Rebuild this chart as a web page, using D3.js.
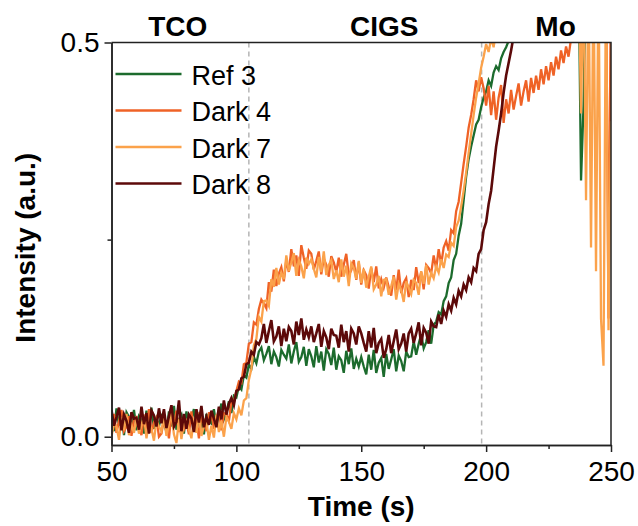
<!DOCTYPE html>
<html>
<head>
<meta charset="utf-8">
<script src="https://cdn.jsdelivr.net/npm/d3@7"></script>
<style>
  body { margin: 0; background: #fff; }
  text { font-family: "Liberation Sans", Arial, sans-serif; }
</style>
</head>
<body>
<div id="chart"></div>
<script>
// sample grid: one reading per second, starting at 50 s
var tStart = 50, tStep = 1;

var xTicks = [50, 100, 150, 200, 250];
var xMinor = [75, 125, 175, 225];
var yTicks = [0.0, 0.5];
var yMinor = [0.25];
var layerMarks = [105, 198.2];
var layerNames = ["TCO", "CIGS", "Mo"];
var layerCenters = [76.5, 159.2, 227.8];

var names = ["Ref 3", "Dark 4", "Dark 7", "Dark 8"];
var colors = ["#1c6b2d", "#ef6226", "#fba24b", "#5c0909"];

var ref3 = [
  0.022, 0.007, 0.036, 0.014, 0.028, 0.002, 0.031, 0.025, 0.011, 0.034,
  0.008, 0.026, 0.021, 0.004, 0.033, 0.016, 0.037, 0.010, 0.023, 0.013,
  0.029, 0.017, 0.006, 0.032, 0.013, 0.039, 0.009, 0.022, 0.028, 0.004,
  0.032, 0.012, 0.023, 0.035, 0.006, 0.026, 0.018, 0.003, 0.029, 0.021,
  0.017, 0.035, 0.013, 0.028, 0.042, 0.022, 0.030, 0.045, 0.030, 0.052,
  0.050, 0.064, 0.060, 0.078, 0.075, 0.092, 0.086, 0.101, 0.093, 0.108,
  0.113, 0.097, 0.105, 0.115, 0.092, 0.108, 0.101, 0.089, 0.110, 0.104,
  0.099, 0.117, 0.093, 0.108, 0.120, 0.095, 0.101, 0.114, 0.090, 0.111,
  0.102, 0.088, 0.115, 0.094, 0.108, 0.084, 0.111, 0.105, 0.091, 0.113,
  0.085, 0.102, 0.097, 0.081, 0.109, 0.092, 0.112, 0.086, 0.099, 0.089,
  0.101, 0.089, 0.079, 0.104, 0.085, 0.110, 0.081, 0.094, 0.100, 0.076,
  0.105, 0.086, 0.098, 0.111, 0.083, 0.103, 0.096, 0.083, 0.108, 0.101,
  0.102, 0.121, 0.104, 0.118, 0.130, 0.112, 0.120, 0.135, 0.118, 0.142,
  0.146, 0.158, 0.155, 0.172, 0.178, 0.195, 0.202, 0.224, 0.232, 0.255,
  0.270, 0.300, 0.330, 0.352, 0.368, 0.382, 0.396, 0.402, 0.418, 0.430,
  0.438, 0.452, 0.445, 0.462, 0.470, 0.465, 0.480, 0.488, 0.494, 0.502,
  0.515, 0.530, 0.545, 0.560, 0.580, 0.600, 0.600, 0.600, 0.600, 0.600,
  0.600, 0.600, 0.600, 0.600, 0.600, 0.600, 0.600, 0.600, 0.600, 0.600,
  0.600, 0.600, 0.600, 0.600, 0.600, 0.600, 0.600, 0.600, 0.325, 0.420,
  0.600, 0.600, 0.600, 0.600, 0.600, 0.600, 0.600, 0.600, 0.600, 0.600,
  0.600
];

var dark4 = [
  0.011, 0.029, 0.005, 0.020, 0.034, 0.007, 0.013, 0.026, 0.001, 0.023,
  0.025, 0.013, 0.002, 0.028, 0.009, 0.035, 0.005, 0.018, 0.024, 0.000,
  0.004, 0.022, 0.017, -0.002, 0.029, 0.012, 0.033, 0.006, 0.019, 0.009,
  0.018, 0.003, 0.032, 0.010, 0.024, -0.002, 0.027, 0.021, 0.007, 0.030,
  0.030, 0.010, 0.022, 0.035, 0.008, 0.030, 0.028, 0.020, 0.044, 0.045,
  0.058, 0.070, 0.068, 0.092, 0.094, 0.118, 0.120, 0.145, 0.142, 0.162,
  0.174, 0.169, 0.163, 0.196, 0.184, 0.212, 0.191, 0.207, 0.215, 0.197,
  0.224, 0.209, 0.238, 0.216, 0.230, 0.204, 0.243, 0.227, 0.213, 0.236,
  0.232, 0.212, 0.223, 0.235, 0.206, 0.226, 0.218, 0.203, 0.229, 0.221,
  0.209, 0.227, 0.203, 0.218, 0.232, 0.205, 0.211, 0.224, 0.199, 0.221,
  0.193, 0.211, 0.205, 0.188, 0.214, 0.196, 0.216, 0.188, 0.200, 0.189,
  0.202, 0.190, 0.179, 0.205, 0.186, 0.212, 0.182, 0.195, 0.201, 0.177,
  0.199, 0.186, 0.215, 0.195, 0.209, 0.187, 0.218, 0.214, 0.207, 0.230,
  0.213, 0.238, 0.219, 0.240, 0.248, 0.236, 0.262, 0.258, 0.286, 0.298,
  0.322, 0.346, 0.368, 0.392, 0.408, 0.428, 0.452, 0.438, 0.456, 0.442,
  0.420, 0.445, 0.408, 0.438, 0.402, 0.430, 0.446, 0.398, 0.428, 0.410,
  0.440, 0.415, 0.432, 0.448, 0.420, 0.438, 0.452, 0.425, 0.455, 0.436,
  0.458, 0.440, 0.466, 0.447, 0.470, 0.452, 0.475, 0.458, 0.482, 0.466,
  0.490, 0.474, 0.495, 0.482, 0.505, 0.510, 0.540, 0.580, 0.600, 0.600,
  0.600, 0.600, 0.600, 0.600, 0.600, 0.600, 0.600, 0.600, 0.600, 0.150,
  0.600
];

var dark7 = [
  0.000, 0.018, 0.013, -0.004, 0.025, 0.008, 0.029, 0.002, 0.015, 0.005,
  0.024, 0.004, 0.015, 0.027, -0.002, 0.018, 0.010, -0.005, 0.021, 0.013,
  0.007, 0.025, 0.001, 0.016, 0.030, 0.003, -0.008, 0.022, -0.003, 0.019,
  0.021, 0.009, -0.002, 0.024, 0.005, 0.031, 0.001, 0.014, 0.020, -0.004,
  0.014, -0.001, 0.028, 0.006, 0.020, 0.000, 0.025, 0.019, 0.010, 0.030,
  0.022, 0.036, 0.027, 0.046, 0.049, 0.072, 0.086, 0.116, 0.124, 0.152,
  0.146, 0.172, 0.173, 0.166, 0.200, 0.190, 0.214, 0.193, 0.208, 0.200,
  0.230, 0.210, 0.221, 0.233, 0.204, 0.224, 0.216, 0.201, 0.227, 0.219,
  0.225, 0.213, 0.202, 0.228, 0.209, 0.235, 0.205, 0.218, 0.224, 0.200,
  0.211, 0.196, 0.225, 0.203, 0.217, 0.191, 0.220, 0.214, 0.200, 0.223,
  0.195, 0.213, 0.189, 0.203, 0.216, 0.187, 0.193, 0.204, 0.178, 0.199,
  0.200, 0.180, 0.191, 0.203, 0.174, 0.194, 0.186, 0.171, 0.197, 0.189,
  0.181, 0.199, 0.195, 0.180, 0.210, 0.194, 0.218, 0.193, 0.208, 0.201,
  0.216, 0.208, 0.225, 0.214, 0.231, 0.228, 0.246, 0.242, 0.266, 0.274,
  0.292, 0.312, 0.335, 0.360, 0.384, 0.408, 0.430, 0.448, 0.468, 0.482,
  0.498, 0.488, 0.505, 0.494, 0.515, 0.530, 0.560, 0.600, 0.600, 0.600,
  0.600, 0.600, 0.600, 0.600, 0.600, 0.600, 0.600, 0.600, 0.600, 0.600,
  0.600, 0.600, 0.600, 0.600, 0.600, 0.600, 0.600, 0.600, 0.600, 0.600,
  0.600, 0.600, 0.600, 0.600, 0.600, 0.600, 0.600, 0.600, 0.410, 0.600,
  0.300, 0.600, 0.240, 0.600, 0.210, 0.600, 0.150, 0.090, 0.600, 0.135,
  0.400
];

var dark8 = [
  0.034, 0.014, 0.025, 0.037, 0.008, 0.028, 0.020, 0.005, 0.031, 0.023,
  0.024, 0.009, 0.038, 0.016, 0.030, 0.004, 0.033, 0.027, 0.013, 0.036,
  0.017, 0.035, 0.011, 0.026, 0.040, 0.013, 0.019, 0.046, 0.007, 0.029,
  0.010, 0.028, 0.023, 0.006, 0.035, 0.018, 0.039, 0.012, 0.025, 0.015,
  0.033, 0.023, 0.012, 0.038, 0.022, 0.046, 0.028, 0.042, 0.049, 0.040,
  0.058, 0.060, 0.074, 0.076, 0.092, 0.094, 0.108, 0.104, 0.120, 0.117,
  0.125, 0.143, 0.119, 0.134, 0.148, 0.121, 0.127, 0.140, 0.115, 0.137,
  0.121, 0.139, 0.134, 0.117, 0.146, 0.129, 0.150, 0.123, 0.136, 0.126,
  0.140, 0.120, 0.131, 0.143, 0.114, 0.134, 0.126, 0.111, 0.137, 0.129,
  0.128, 0.113, 0.142, 0.120, 0.134, 0.108, 0.137, 0.131, 0.117, 0.140,
  0.131, 0.119, 0.108, 0.134, 0.113, 0.138, 0.106, 0.119, 0.124, 0.100,
  0.111, 0.129, 0.106, 0.121, 0.136, 0.111, 0.118, 0.131, 0.108, 0.131,
  0.137, 0.119, 0.131, 0.145, 0.116, 0.138, 0.132, 0.118, 0.146, 0.140,
  0.139, 0.155, 0.143, 0.160, 0.152, 0.168, 0.160, 0.176, 0.168, 0.185,
  0.178, 0.193, 0.186, 0.202, 0.196, 0.214, 0.210, 0.232, 0.238, 0.262,
  0.272, 0.295, 0.312, 0.340, 0.368, 0.388, 0.410, 0.436, 0.458, 0.474,
  0.490, 0.508, 0.525
];

var series = [ref3, dark4, dark7, dark8];

var margin = {top: 42.5, right: 27, bottom: 81, left: 111.5},
    width = 638 - margin.left - margin.right,
    height = 526 - margin.top - margin.bottom;

var svg = d3.select("#chart")
  .append("svg")
    .attr("width", 638)
    .attr("height", 526);

var graph = svg.append("g")
  .attr("transform", "translate(" + margin.left + "," + margin.top + ")");

var x = d3.scaleLinear().domain([50, 250]).range([0, width]);
var y = d3.scaleLinear().domain([-0.0105, 0.5]).range([height, 0]);

graph.append("clipPath")
  .attr("id", "plot-clip")
  .append("rect")
    .attr("width", width)
    .attr("height", height);

// dashed layer boundaries
graph.selectAll(".layer-mark")
  .data(layerMarks)
  .enter().append("line")
    .attr("x1", function(d) { return x(d); })
    .attr("x2", function(d) { return x(d); })
    .attr("y1", 0)
    .attr("y2", height)
    .attr("stroke", "#b5b5b5")
    .attr("stroke-width", 1.5)
    .attr("stroke-dasharray", "5,4");

var line = d3.line()
  .x(function(d, i) { return x(tStart + i * tStep); })
  .y(function(d) { return y(d); });

var plot = graph.append("g").attr("clip-path", "url(#plot-clip)");

series.forEach(function(values, k) {
  plot.append("path")
    .datum(values)
    .attr("fill", "none")
    .attr("stroke", colors[k])
    .attr("stroke-width", k == 3 ? 2.6 : 2.3)
    .attr("d", line);
});

// frame
graph.append("path")
  .attr("d", "M0,0H" + width + "V" + height)
  .attr("fill", "none")
  .attr("stroke", "#222")
  .attr("stroke-width", 1.5);

// axes
graph.append("g")
  .attr("transform", "translate(0," + height + ")")
  .call(d3.axisBottom(x).tickValues(xTicks).tickSize(7).tickSizeOuter(0).tickPadding(9));
graph.append("g")
  .attr("transform", "translate(0," + height + ")")
  .call(d3.axisBottom(x).tickValues(xMinor).tickSize(4).tickSizeOuter(0).tickFormat(""));

graph.append("g")
  .call(d3.axisLeft(y).tickValues(yTicks).tickSize(7).tickSizeOuter(0).tickPadding(5)
    .tickFormat(d3.format(".1f")));
graph.append("g")
  .call(d3.axisLeft(y).tickValues(yMinor).tickSize(4).tickSizeOuter(0).tickFormat(""));

graph.selectAll(".domain").attr("stroke", "#222").attr("stroke-width", 1.5);
graph.selectAll(".tick line").attr("stroke", "#222").attr("stroke-width", 1.5);
graph.selectAll(".tick text")
  .attr("fill", "#000")
  .style("font-size", "28px")
  .style("font-family", "'Liberation Sans', Arial, sans-serif");

// layer names over the plot
graph.selectAll(".layer-name")
  .data(layerNames)
  .enter().append("text")
    .attr("x", function(d, i) { return x(layerCenters[i]); })
    .attr("y", -7)
    .attr("text-anchor", "middle")
    .style("font-size", "28px")
    .style("font-weight", "bold")
    .text(function(d) { return d; });

// axis titles
graph.append("text")
  .attr("x", width / 2)
  .attr("y", height + 71)
  .attr("text-anchor", "middle")
  .style("font-size", "28px")
  .style("font-weight", "bold")
  .text("Time (s)");

graph.append("text")
  .attr("transform", "translate(-77," + (height / 2 + 4) + ") rotate(-90)")
  .attr("text-anchor", "middle")
  .style("font-size", "28px")
  .style("font-weight", "bold")
  .text("Intensity (a.u.)");

// legend
var legend = graph.selectAll(".legend")
  .data(names)
  .enter().append("g")
    .attr("transform", function(d, i) { return "translate(4," + (31.5 + i * 36.5) + ")"; });

legend.append("line")
  .attr("x1", 0)
  .attr("x2", 66)
  .attr("stroke", function(d, i) { return colors[i]; })
  .attr("stroke-width", 2.5);

legend.append("text")
  .attr("x", 76)
  .attr("y", 10.5)
  .style("font-size", "27px")
  .text(function(d) { return d; });
</script>
</body>
</html>
